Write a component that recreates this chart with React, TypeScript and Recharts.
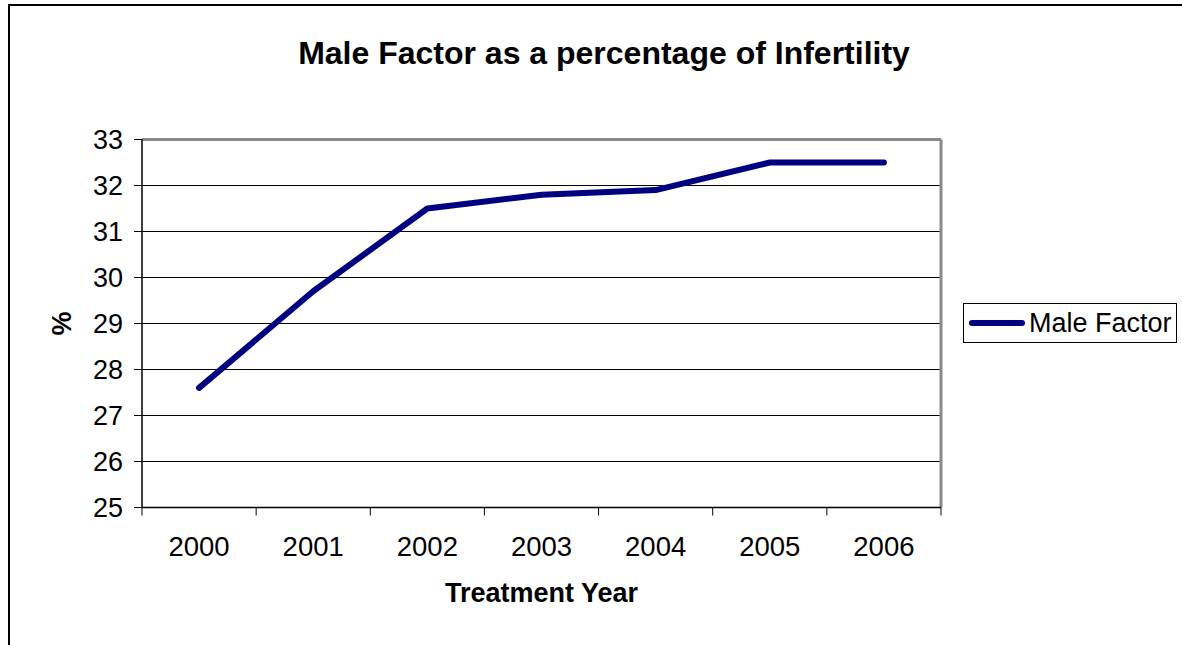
import React from 'react';
import { LineChart, Line, XAxis, YAxis, CartesianGrid, Legend, ReferenceLine, Label } from 'recharts';

const years: string[] = ['2000', '2001', '2002', '2003', '2004', '2005', '2006'];
const maleFactor: number[] = [27.6, 29.7, 31.5, 31.8, 31.9, 32.5, 32.5];
const yTicks: number[] = [25, 26, 27, 28, 29, 30, 31, 32, 33];
const seriesName = 'Male Factor';
const chartTitle = 'Male Factor as a percentage of Infertility';
const xTitle = 'Treatment Year';
const yTitle = '%';

const W = 1182;
const H = 645;
const MARGIN = { top: 139.5, right: 241, bottom: 57.5, left: 62 };
const Y_AXIS_W = 80;
const X_AXIS_H = 80;
const PLOT_W = W - MARGIN.left - Y_AXIS_W - MARGIN.right;
const HALF_BAND = PLOT_W / years.length / 2;
const FONT = '"Liberation Sans", Arial, Helvetica, sans-serif';
const NAVY = '#000080';

const data = years.map((year, i) => ({ pos: i + 0.5, year, value: maleFactor[i] }));
const xTicks = years.map((_, i) => i).concat([years.length]);

const XTick = (props: any) => {
  const { x, y, payload } = props;
  const idx = payload.value;
  if (idx >= years.length) return <g />;
  return (
    <text x={x + HALF_BAND} y={y} dy="0.71em" textAnchor="middle" fontSize={27.5} fill="#000" fontFamily={FONT}>
      {years[idx]}
    </text>
  );
};

const LegendBox = () => (
  <div
    style={{
      boxSizing: 'border-box',
      width: 214,
      height: 40,
      border: '1px solid #000',
      background: '#fff',
      display: 'flex',
      alignItems: 'center',
      fontFamily: FONT,
      fontSize: 27,
      color: '#000',
      paddingLeft: 5,
    }}
  >
    <svg width={58} height={12} style={{ display: 'block' }}>
      <line x1={3} y1={6} x2={53} y2={6} stroke={NAVY} strokeWidth={6} strokeLinecap="round" />
    </svg>
    <span style={{ marginLeft: 2, lineHeight: '27px' }}>{seriesName}</span>
  </div>
);

export default function App() {
  return (
    <div style={{ position: 'absolute', left: 0, top: 0, width: W, height: H, overflow: 'hidden', background: '#fff' }}>
      <div
        style={{
          position: 'absolute',
          left: 8,
          top: 4,
          width: 1400,
          height: 900,
          border: '2px solid #000',
          boxSizing: 'border-box',
        }}
      />
      <div
        style={{
          position: 'absolute',
          left: 0,
          top: 38,
          width: 1208,
          textAlign: 'center',
          fontFamily: FONT,
          fontWeight: 'bold',
          fontSize: 32,
          lineHeight: '31px',
          color: '#000',
        }}
      >
        {chartTitle}
      </div>
      <div style={{ position: 'absolute', left: 0, top: 0 }}>
        <LineChart width={W} height={H} data={data} margin={MARGIN} style={{ fontFamily: FONT }}>
          <CartesianGrid vertical={false} stroke="#000" strokeWidth={1} />
          <XAxis
            dataKey="pos"
            type="number"
            domain={[0, years.length]}
            ticks={xTicks}
            interval={0}
            height={X_AXIS_H}
            tickSize={8}
            tickMargin={21}
            tick={XTick}
            axisLine={{ stroke: '#000', strokeWidth: 1.5 }}
            tickLine={{ stroke: '#000', strokeWidth: 1 }}
          >
            <Label
              content={(p: any) => {
                const vb = p.viewBox;
                return (
                  <text x={vb.x + vb.width / 2} y={vb.y + 94} textAnchor="middle" fontSize={27} fontWeight="bold" fill="#000" fontFamily={FONT}>
                    {xTitle}
                  </text>
                );
              }}
            />
          </XAxis>
          <YAxis
            type="number"
            domain={[25, 33]}
            ticks={yTicks}
            interval={0}
            width={Y_AXIS_W}
            tickSize={8}
            tickMargin={11}
            tick={{ fontSize: 27, fill: '#000', fontFamily: FONT }}
            axisLine={{ stroke: '#000', strokeWidth: 1.5 }}
            tickLine={{ stroke: '#000', strokeWidth: 1 }}
          >
            <Label
              content={(p: any) => {
                const vb = p.viewBox;
                const cx = vb.x;
                const cy = vb.y + vb.height / 2;
                return (
                  <text
                    x={cx}
                    y={cy}
                    transform={`rotate(-90, ${cx}, ${cy})`}
                    textAnchor="middle"
                    dominantBaseline="central"
                    fontSize={27}
                    fontWeight="bold"
                    fill="#000"
                    fontFamily={FONT}
                  >
                    {yTitle}
                  </text>
                );
              }}
            />
          </YAxis>
          <ReferenceLine y={33} stroke="#8a8a8a" strokeWidth={3} />
          <ReferenceLine x={years.length} stroke="#8a8a8a" strokeWidth={3} />
          <Line
            type="linear"
            dataKey="value"
            name={seriesName}
            stroke={NAVY}
            strokeWidth={6}
            strokeLinecap="round"
            strokeLinejoin="round"
            dot={false}
            activeDot={false}
            isAnimationActive={false}
          />
          <Legend
            layout="vertical"
            align="center"
            verticalAlign="middle"
            content={() => <LegendBox />}
            wrapperStyle={{ position: 'absolute', left: 963, top: 303, width: 214, height: 40, margin: 0 }}
          />
        </LineChart>
      </div>
    </div>
  );
}
